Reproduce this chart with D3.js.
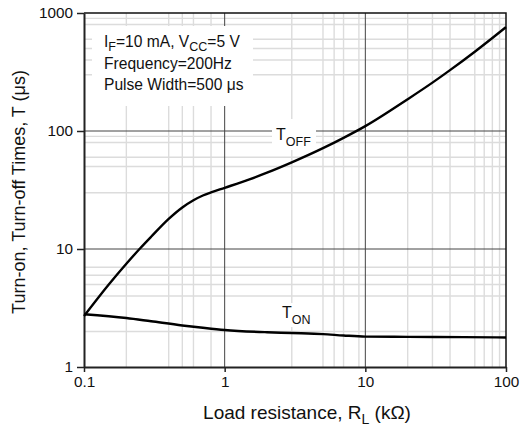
<!DOCTYPE html>
<html>
<head>
<meta charset="utf-8">
<script src="https://cdn.jsdelivr.net/npm/d3@7"></script>
<style>
  html, body { margin: 0; padding: 0; background: #fff; }
  svg { display: block; font-family: "Liberation Sans", Arial, Helvetica, sans-serif; }
</style>
</head>
<body>
<svg id="chart" width="520" height="432"></svg>
<script>
// Load resistance (kΩ) and switching times (µs)
const rlOff = [0.1, 0.15, 0.2, 0.25, 0.3, 0.4, 0.5, 0.6, 0.7, 0.8, 1, 1.5, 2, 3, 5, 7, 10, 20, 30, 40, 60, 80, 100];
const tOff  = [2.7, 5.0, 7.5, 10.1, 12.7, 18, 22.5, 25.9, 28.4, 30.2, 33, 38.9, 44.3, 54.2, 71.5, 87.5, 110, 186, 257, 328, 470, 614, 760];
const rlOn  = [0.1, 0.2, 0.3, 0.5, 0.7, 1, 2, 3, 5, 7, 10, 20, 50, 100];
const tOn   = [2.8, 2.6, 2.44, 2.25, 2.15, 2.06, 1.97, 1.94, 1.9, 1.85, 1.81, 1.8, 1.79, 1.78];

// Axis ticks and grid positions
const xTicks = [0.1, 1, 10, 100];
const yTicks = [1, 10, 100, 1000];
const xMinor = [0.2, 0.4, 0.5, 0.6, 0.8, 3, 5, 6, 7, 9, 20, 30, 40, 60, 70, 80, 90];
const yMinor = [2, 4, 5, 6, 7, 30, 50, 60, 80, 90, 300, 400, 500, 600, 800, 900];

const svg = d3.select("#chart");
const plotL = 84, plotR = 506, plotT = 13, plotB = 367;

const x = d3.scaleLog().domain([0.1, 100]).range([plotL, plotR]);
const y = d3.scaleLog().domain([1, 1000]).range([plotB, plotT]);

// Minor grid
const grid = svg.append("g");
grid.selectAll("line.vx").data(xMinor).join("line")
  .attr("x1", d => x(d)).attr("x2", d => x(d))
  .attr("y1", plotT).attr("y2", plotB)
  .attr("stroke", "#dcdcdc").attr("stroke-width", 1.4);
grid.selectAll("line.hy").data(yMinor).join("line")
  .attr("x1", plotL).attr("x2", plotR)
  .attr("y1", d => y(d)).attr("y2", d => y(d))
  .attr("stroke", "#dcdcdc").attr("stroke-width", 1.4);

// Major grid at decades
grid.selectAll("line.mx").data(xTicks.slice(1, -1)).join("line")
  .attr("x1", d => x(d)).attr("x2", d => x(d))
  .attr("y1", plotT).attr("y2", plotB)
  .attr("stroke", "#444").attr("stroke-width", 1);
grid.selectAll("line.my").data(yTicks.slice(1, -1)).join("line")
  .attr("x1", plotL).attr("x2", plotR)
  .attr("y1", d => y(d)).attr("y2", d => y(d))
  .attr("stroke", "#444").attr("stroke-width", 1);

// White backing behind the in-plot labels
const backs = [
  [92, 26, 161, 80],
  [272, 119, 44, 31],
  [280, 303, 34, 24]
];
svg.append("g").selectAll("rect").data(backs).join("rect")
  .attr("x", d => d[0]).attr("y", d => d[1])
  .attr("width", d => d[2]).attr("height", d => d[3])
  .attr("fill", "#fff");

// Frame: top and right
svg.append("path")
  .attr("d", `M${plotL},${plotT}H${plotR}V${plotB}`)
  .attr("fill", "none").attr("stroke", "#111").attr("stroke-width", 1.5);

// Axes
const yAxis = d3.axisLeft(y).tickValues(yTicks).tickFormat(d => String(d))
  .tickSize(7).tickSizeOuter(0).tickPadding(4);
const gy = svg.append("g").attr("transform", `translate(${plotL},0)`).call(yAxis);
const xAxis = d3.axisBottom(x).tickValues(xTicks).tickFormat(d => String(d))
  .tickSize(5).tickSizeOuter(0).tickPadding(4);
const gx = svg.append("g").attr("transform", `translate(0,${plotB})`).call(xAxis);

[gx, gy].forEach(g => {
  g.select(".domain").attr("stroke", "#222").attr("stroke-width", 2);
  g.selectAll(".tick line").attr("stroke", "#222").attr("stroke-width", 1.5);
  g.selectAll(".tick text").attr("fill", "#111")
    .style("font-family", '"Liberation Sans", Arial, sans-serif')
    .style("font-size", "15.3px");
});

// Curves
const line = d3.line().x(d => x(d[0])).y(d => y(d[1])).curve(d3.curveMonotoneX);
svg.append("path").datum(d3.zip(rlOff, tOff)).attr("d", line)
  .attr("fill", "none").attr("stroke", "#000").attr("stroke-width", 2.4);
svg.append("path").datum(d3.zip(rlOn, tOn)).attr("d", line)
  .attr("fill", "none").attr("stroke", "#000").attr("stroke-width", 2.4);

// Text helper with subscripts
function richText(xp, yp, parts, size, sub) {
  const t = svg.append("text").attr("x", xp).attr("y", yp)
    .attr("fill", "#111").style("font-size", size + "px");
  let lowered = false;
  parts.forEach(p => {
    const isSub = Array.isArray(p);
    const s = t.append("tspan").text(isSub ? p[0] : p);
    if (isSub && !lowered) { s.attr("dy", 4).style("font-size", sub + "px"); lowered = true; }
    else if (isSub) { s.style("font-size", sub + "px"); }
    else if (!isSub && lowered) { s.attr("dy", -4); lowered = false; }
  });
  return t;
}

// Test conditions
richText(104, 47, ["I", ["F"], "=10 mA, V", ["CC"], "=5 V"], 15.6, 12.5);
richText(104, 69, ["Frequency=200Hz"], 15.6, 12.5);
richText(104, 90, ["Pulse Width=500 \u03bcs"], 15.6, 12.5);

// Curve labels
const toff = svg.append("text").attr("x", 276).attr("y", 140).attr("fill", "#111").style("font-size", "16px");
toff.append("tspan").text("T");
toff.append("tspan").attr("dy", 6).style("font-size", "12.5px").text("OFF");
const ton = svg.append("text").attr("x", 282).attr("y", 318).attr("fill", "#111").style("font-size", "16px");
ton.append("tspan").text("T");
ton.append("tspan").attr("dy", 6).style("font-size", "12.5px").text("ON");

// Axis titles
const xt = svg.append("text").attr("x", 307).attr("y", 419).attr("text-anchor", "middle")
  .attr("fill", "#111").style("font-size", "19px");
xt.append("tspan").text("Load resistance, R");
xt.append("tspan").attr("dy", 5).style("font-size", "14px").text("L");
xt.append("tspan").attr("dy", -5).text(" (k\u03a9)");

svg.append("text")
  .attr("transform", "translate(25,192) rotate(-90)")
  .attr("text-anchor", "middle").attr("fill", "#111").style("font-size", "18px")
  .text("Turn-on, Turn-off Times, T (\u03bcs)");
</script>
</body>
</html>
